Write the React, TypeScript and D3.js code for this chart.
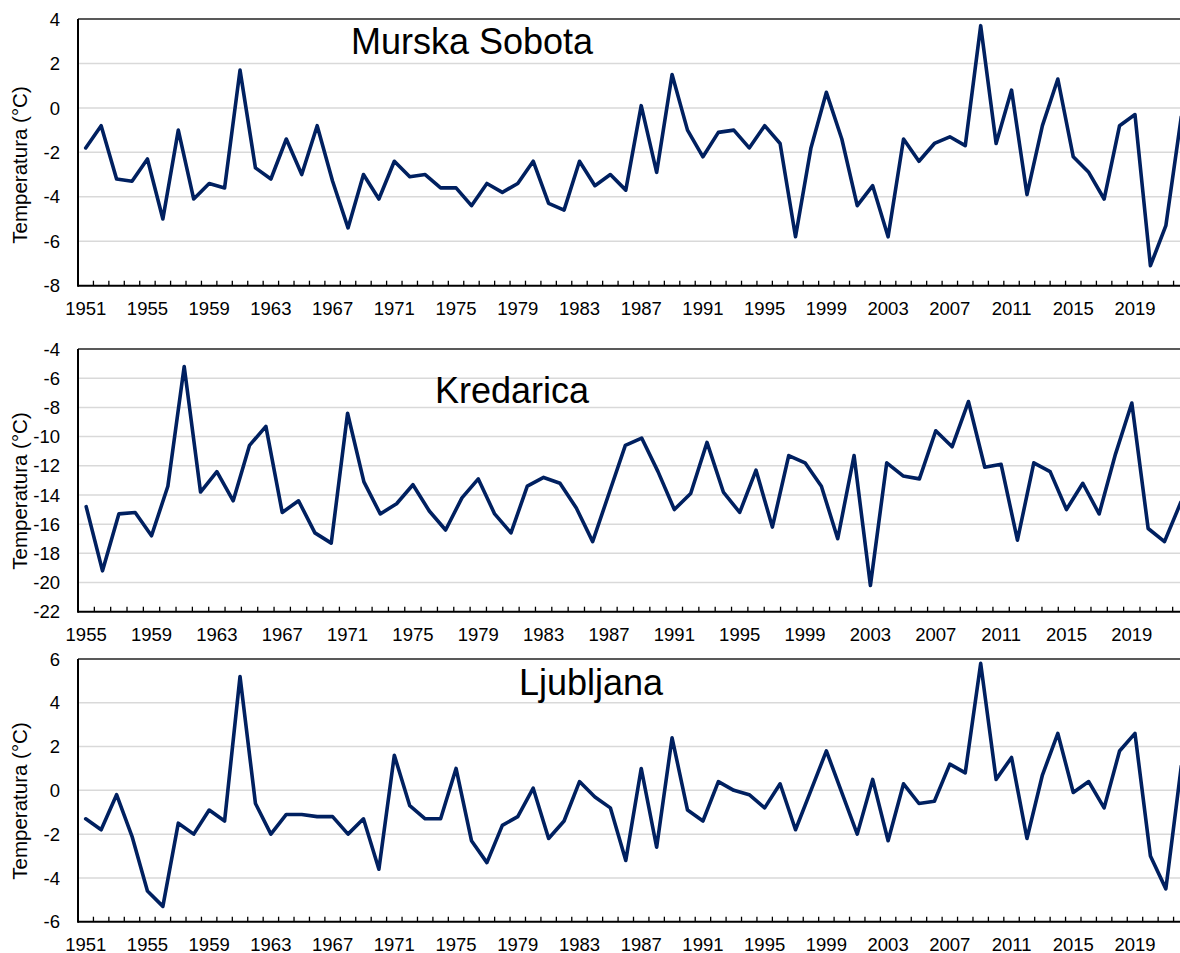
import React from "react";
import * as d3 from "d3";

// ---- Data ----
const yearsA: number[] = d3.range(1951, 2023); // Murska Sobota & Ljubljana
const yearsK: number[] = d3.range(1955, 2023); // Kredarica

const murskaSobota: number[] = [
  -1.8, -0.8, -3.2, -3.3, -2.3, -5.0, -1.0, -4.1, -3.4, -3.6,
  1.7, -2.7, -3.2, -1.4, -3.0, -0.8, -3.3, -5.4, -3.0, -4.1,
  -2.4, -3.1, -3.0, -3.6, -3.6, -4.4, -3.4, -3.8, -3.4, -2.4,
  -4.3, -4.6, -2.4, -3.5, -3.0, -3.7, 0.1, -2.9, 1.5, -1.0,
  -2.2, -1.1, -1.0, -1.8, -0.8, -1.6, -5.8, -1.8, 0.7, -1.4,
  -4.4, -3.5, -5.8, -1.4, -2.4, -1.6, -1.3, -1.7, 3.7, -1.6,
  0.8, -3.9, -0.8, 1.3, -2.2, -2.9, -4.1, -0.8, -0.3, -7.1,
  -5.3, -0.4,
];

const kredarica: number[] = [
  -14.8, -19.2, -15.3, -15.2, -16.8, -13.4, -5.2, -13.8, -12.4, -14.4,
  -10.6, -9.3, -15.2, -14.4, -16.6, -17.3, -8.4, -13.1, -15.3, -14.6,
  -13.3, -15.1, -16.4, -14.2, -12.9, -15.3, -16.6, -13.4, -12.8, -13.2,
  -14.9, -17.2, -13.9, -10.6, -10.1, -12.4, -15.0, -13.9, -10.4, -13.8,
  -15.2, -12.3, -16.2, -11.3, -11.8, -13.4, -17.0, -11.3, -20.2, -11.8,
  -12.7, -12.9, -9.6, -10.7, -7.6, -12.1, -11.9, -17.1, -11.8, -12.4,
  -15.0, -13.2, -15.3, -11.2, -7.7, -16.3, -17.2, -14.5,
];

const ljubljana: number[] = [
  -1.3, -1.8, -0.2, -2.1, -4.6, -5.3, -1.5, -2.0, -0.9, -1.4,
  5.2, -0.6, -2.0, -1.1, -1.1, -1.2, -1.2, -2.0, -1.3, -3.6,
  1.6, -0.7, -1.3, -1.3, 1.0, -2.3, -3.3, -1.6, -1.2, 0.1,
  -2.2, -1.4, 0.4, -0.3, -0.8, -3.2, 1.0, -2.6, 2.4, -0.9,
  -1.4, 0.4, 0.0, -0.2, -0.8, 0.3, -1.8, 0.0, 1.8, -0.1,
  -2.0, 0.5, -2.3, 0.3, -0.6, -0.5, 1.2, 0.8, 5.8, 0.5,
  1.5, -2.2, 0.7, 2.6, -0.1, 0.4, -0.8, 1.8, 2.6, -3.0,
  -4.5, 1.1,
];

const ticksA: number[] = [4, 2, 0, -2, -4, -6, -8];
const ticksK: number[] = [-4, -6, -8, -10, -12, -14, -16, -18, -20, -22];
const ticksL: number[] = [6, 4, 2, 0, -2, -4, -6];

const titles: string[] = ["Murska Sobota", "Kredarica", "Ljubljana"];
const yTitle = "Temperatura (°C)";

// ---- Layout ----
const W = 1180;
const H = 953;
const LEFT = 78;
const RIGHT = 1189;
const FONT = "'Liberation Sans', Arial, Helvetica, sans-serif";
const LINE_COLOR = "#002060";

interface PanelProps {
  years: number[];
  values: number[];
  ticks: number[];
  title: string;
  top: number;
  bottom: number;
  titleX: number;
  titleY: number;
  yTitleY: number;
}

function Panel({ years, values, ticks, title, top, bottom, titleX, titleY, yTitleY }: PanelProps) {
  const x = d3.scaleBand<number>().domain(years).range([LEFT, RIGHT]).padding(0);
  const bw = x.bandwidth();
  const y = d3
    .scaleLinear()
    .domain([d3.min(ticks) as number, d3.max(ticks) as number])
    .range([bottom, top]);

  const line = d3
    .line<number>()
    .x((_, i) => (x(years[i]) as number) + bw / 2)
    .y((v) => y(v));

  const maxT = d3.max(ticks) as number;
  const minT = d3.min(ticks) as number;
  const firstYear = years[0];

  return (
    <g>
      {ticks
        .filter((t) => t !== maxT && t !== minT)
        .map((t) => (
          <line key={"g" + t} x1={LEFT} x2={RIGHT} y1={y(t)} y2={y(t)} stroke="#d9d9d9" strokeWidth={1.5} />
        ))}
      <line x1={LEFT} x2={RIGHT} y1={y(maxT)} y2={y(maxT)} stroke="#595959" strokeWidth={1.8} />
      {ticks.map((t) => (
        <text
          key={"yl" + t}
          x={60}
          y={y(t)}
          dy="0.36em"
          textAnchor="end"
          fontSize={18.5}
          fontFamily={FONT}
          fill="#000"
        >
          {t}
        </text>
      ))}
      {years.map((yr) => {
        const xx = (x(yr) as number) + bw;
        return <line key={"xt" + yr} x1={xx} x2={xx} y1={bottom} y2={bottom - 5} stroke="#000" strokeWidth={1.3} />;
      })}
      {years
        .filter((yr) => (yr - firstYear) % 4 === 0)
        .map((yr) => (
          <text
            key={"xl" + yr}
            x={(x(yr) as number) + bw / 2}
            y={bottom + 29}
            textAnchor="middle"
            fontSize={18.5}
            fontFamily={FONT}
            fill="#000"
          >
            {yr}
          </text>
        ))}
      <line x1={LEFT} x2={RIGHT} y1={bottom} y2={bottom} stroke="#000" strokeWidth={2} />
      <line x1={LEFT} x2={LEFT} y1={top} y2={bottom + 1} stroke="#000" strokeWidth={2} />
      <path
        d={line(values) || ""}
        fill="none"
        stroke={LINE_COLOR}
        strokeWidth={3.6}
        strokeLinejoin="round"
        strokeLinecap="round"
      />
      <text x={titleX} y={titleY} textAnchor="middle" fontSize={36} fontFamily={FONT} fill="#000">
        {title}
      </text>
      <text
        transform={`translate(27,${yTitleY}) rotate(-90)`}
        textAnchor="middle"
        fontSize={20.5}
        fontFamily={FONT}
        fill="#000"
      >
        {yTitle}
      </text>
    </g>
  );
}

export default function App() {
  return (
    <svg
      width={W}
      height={H}
      viewBox={`0 0 ${W} ${H}`}
      style={{ position: "fixed", left: 0, top: 0, background: "#fff" }}
    >
      <rect x={0} y={0} width={W} height={H} fill="#fff" />
      <Panel
        years={yearsA}
        values={murskaSobota}
        ticks={ticksA}
        title={titles[0]}
        top={19}
        bottom={285.7}
        titleX={472}
        titleY={54}
        yTitleY={165}
      />
      <Panel
        years={yearsK}
        values={kredarica}
        ticks={ticksK}
        title={titles[1]}
        top={349}
        bottom={611.7}
        titleX={512}
        titleY={403}
        yTitleY={491}
      />
      <Panel
        years={yearsA}
        values={ljubljana}
        ticks={ticksL}
        title={titles[2]}
        top={659}
        bottom={921.7}
        titleX={591}
        titleY={695}
        yTitleY={801}
      />
    </svg>
  );
}
